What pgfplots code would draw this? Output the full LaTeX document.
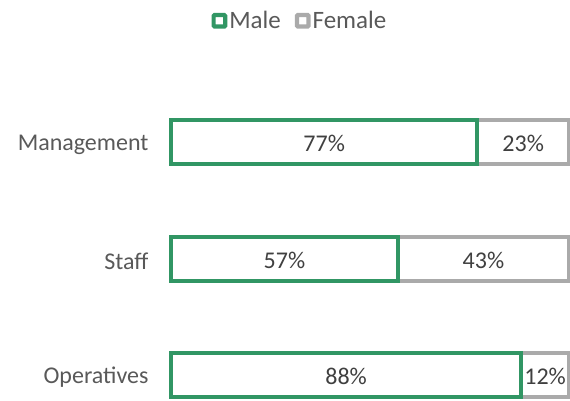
\documentclass[border=0pt]{standalone}
\usepackage{fontspec}
\setmainfont{Carlito}
\usepackage{pgfplots}
\pgfplotsset{compat=1.18}
\definecolor{mgreen}{RGB}{49,150,100}
\definecolor{fgray}{RGB}{170,170,170}
\definecolor{lbl}{RGB}{64,64,64}
\definecolor{cat}{RGB}{89,89,89}
\begin{document}
\begin{tikzpicture}
\useasboundingbox (-171pt,0pt) rectangle (399pt,401pt);
\pgfplotsset{base/.style={scale only axis, width=398pt, height=341pt,
  xmin=0, xmax=100, ymin=-0.219, ymax=2.708, at={(0pt,0pt)}, anchor=south west,
  axis line style={draw=none}, tick style={draw=none}, xtick=\empty, clip=false}}
\begin{axis}[base, xbar stacked, bar width=44pt,
  ytick={0,1,2}, yticklabels={Operatives,Staff,Management},
  yticklabel style={font=\fontsize{24}{28}\selectfont, text=cat, xshift=-19pt, yshift=-2pt},
  legend columns=-1,
  legend style={at={(0.324,1.115)}, anchor=center, draw=none, fill=none,
    font=\fontsize{25}{29}\selectfont, text=cat,
    /tikz/every even column/.append style={column sep=12pt}}]
\addplot[draw=mgreen, fill=white, line width=4pt,
  legend image code/.code={\draw[draw=mgreen, line width=4.2pt, fill=white, rounded corners=1pt] (0pt,-5.8pt) rectangle (11.6pt,5.8pt);}]
  coordinates {(88,0) (57,1) (77,2)};
\addplot[draw=fgray, fill=white, line width=4pt,
  legend image code/.code={\draw[draw=fgray, line width=4.2pt, fill=white, rounded corners=1pt] (0pt,-5.8pt) rectangle (11.6pt,5.8pt);}]
  coordinates {(12,0) (43,1) (23,2)};
\legend{Male,Female}
\end{axis}
\begin{axis}[base, ytick=\empty]
\addplot[only marks, mark=none, nodes near coords, point meta=explicit symbolic,
  nodes near coords style={anchor=center, font=\fontsize{24}{28}\selectfont, text=lbl, yshift=-1pt}]
  coordinates {(44,0) [88\%] (94,0) [12\%] (28.5,1) [57\%] (78.5,1) [43\%] (38.5,2) [77\%] (88.5,2) [23\%]};
\end{axis}
\end{tikzpicture}
\end{document}
